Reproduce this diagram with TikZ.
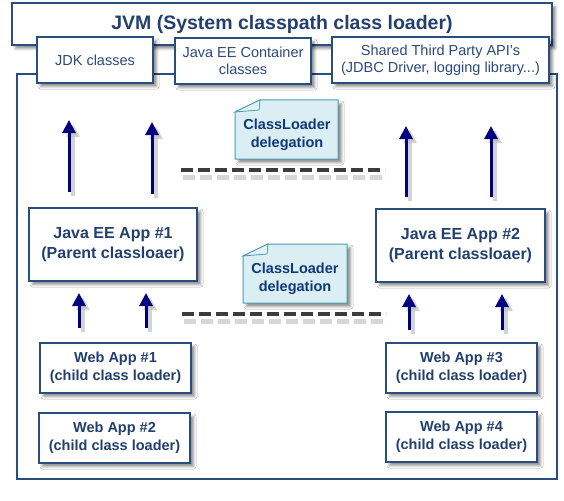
\documentclass[tikz,border=0pt]{standalone}
\usepackage{fontspec}
\setmainfont{Liberation Sans}
\usetikzlibrary{arrows.meta,shadows.blur}
\definecolor{boxline}{HTML}{2A4D7F}
\definecolor{boxtext}{HTML}{22406E}
\definecolor{regtext}{HTML}{2C4A7C}
\definecolor{notefill}{HTML}{DAEEF3}
\definecolor{noteline}{HTML}{4A9DB3}
\definecolor{notetext}{HTML}{0F3A78}
\definecolor{arrowcol}{HTML}{00007F}
\definecolor{dashcol}{HTML}{3C3C3C}
\tikzset{
  shd/.style={blur shadow={shadow xshift=3.5pt, shadow yshift=-3.5pt, shadow blur radius=2.5pt, shadow opacity=45}},
  plainbox/.style={draw=boxline, line width=1.2pt, fill=white, inner sep=0pt, align=center},
  box/.style={plainbox, shd},
  regbox/.style={box, text=regtext, font=\fontsize{14.5}{17}\selectfont},
  appbox/.style={box, text=boxtext, font=\bfseries\fontsize{16}{20}\selectfont},
  webbox/.style={box, text=boxtext, font=\bfseries\fontsize{14.5}{18}\selectfont},
  notebody/.style={fill=notefill, draw=noteline, line width=1pt, shd},
  notetxt/.style={text=notetext, font=\bfseries\fontsize{14.5}{18}\selectfont, align=center, inner sep=0pt},
  arr/.style={draw=arrowcol, line width=3pt, -{Triangle[width=13pt,length=13pt]}},
  arrshd/.style={draw=black!30, opacity=.55, line width=3.5pt, -{Triangle[width=13pt,length=13pt]}, transform canvas={xshift=4pt,yshift=-4pt}},
  dline/.style={draw=dashcol, line width=4pt, dash pattern=on 12pt off 5pt},
  dshd/.style={draw=black!22, line width=5pt, dash pattern=on 12pt off 5pt, opacity=.7, transform canvas={xshift=2pt,yshift=-7pt}}
}
\begin{document}
\begin{tikzpicture}[x=1pt,y=-1pt]
\useasboundingbox (0,0) rectangle (564,500);
% JVM box
\node[box, minimum width=540pt, minimum height=42pt, text=boxtext, font=\bfseries\fontsize{19.5}{22}\selectfont] (jvm) at (282,24) {JVM (System classpath class loader)};
% outer container
\node[plainbox, minimum width=540pt, minimum height=405pt] (outer) at (287,276.5) {};
% top small boxes
\node[regbox, minimum width=116pt, minimum height=46pt] (jdk) at (95,60) {JDK classes};
\node[regbox, minimum width=136pt, minimum height=46pt] (cont) at (243,61) {Java EE Container\\classes};
\node[regbox, minimum width=217pt, minimum height=46pt] (shared) at (440.5,60) {Shared Third Party API's\\(JDBC Driver, logging library...)};
% Java EE apps
\node[appbox, minimum width=168pt, minimum height=73pt] (app1) at (113,244.5) {Java EE App \#1\\(Parent classloaer)};
\node[appbox, minimum width=169pt, minimum height=73pt] (app2) at (460.5,245.5) {Java EE App \#2\\(Parent classloaer)};
% Web apps
\node[webbox, minimum width=151pt, minimum height=50pt] (web1) at (115.5,368) {Web App \#1\\(child class loader)};
\node[webbox, minimum width=151pt, minimum height=50pt] (web2) at (114.5,438) {Web App \#2\\(child class loader)};
\node[webbox, minimum width=151pt, minimum height=50pt] (web3) at (461.5,368) {Web App \#3\\(child class loader)};
\node[webbox, minimum width=151pt, minimum height=50pt] (web4) at (461.5,437) {Web App \#4\\(child class loader)};
% notes
\path[notebody] (235,112) -- (260,100) -- (338,100) -- (338,159) -- (235,159) -- cycle;
\draw[noteline, line width=0.8pt, fill=notefill!70!white] (260,100) -- (259,110) -- (235,112) -- cycle;
\node[notetxt] (note1) at (287,135) {ClassLoader\\delegation};
\path[notebody] (243,256) -- (268,244) -- (347,244) -- (347,303) -- (243,303) -- cycle;
\draw[noteline, line width=0.8pt, fill=notefill!70!white] (268,244) -- (267,254) -- (243,256) -- cycle;
\node[notetxt] (note2) at (295,279) {ClassLoader\\delegation};
% dashed lines
\coordinate (d1a) at (181,170); \coordinate (d1b) at (385,170);
\coordinate (d2a) at (182,314); \coordinate (d2b) at (386,314);
\draw[dshd] (d1a) -- (d1b);
\draw[dshd] (d2a) -- (d2b);
\draw[dline] (d1a) -- (d1b);
\draw[dline] (d2a) -- (d2b);
% arrow coordinates
\coordinate (t1s) at (69,192);  \coordinate (t1e) at (69,120);
\coordinate (t2s) at (152,194); \coordinate (t2e) at (152,122);
\coordinate (t3s) at (406,197); \coordinate (t3e) at (406,126);
\coordinate (t4s) at (491,197); \coordinate (t4e) at (491,126);
\coordinate (b1s) at (79,328);  \coordinate (b1e) at (79,293);
\coordinate (b2s) at (146,328); \coordinate (b2e) at (146,293);
\coordinate (b3s) at (409,330); \coordinate (b3e) at (409,294);
\coordinate (b4s) at (502,330); \coordinate (b4e) at (502,294);
\foreach \a in {t1,t2,t3,t4,b1,b2,b3,b4} {
  \draw[arrshd] (\a s) -- (\a e);
}
\foreach \a in {t1,t2,t3,t4,b1,b2,b3,b4} {
  \draw[arr] (\a s) -- (\a e);
}
\end{tikzpicture}
\end{document}
